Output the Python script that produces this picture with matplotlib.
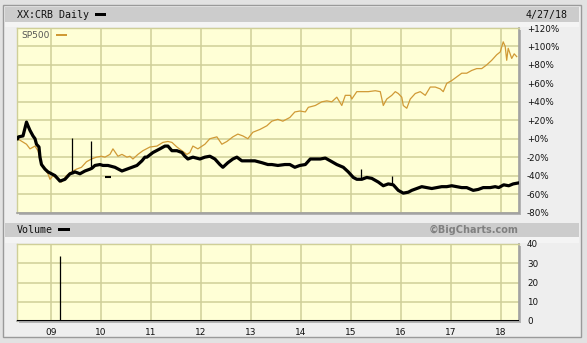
import matplotlib.pyplot as plt
from matplotlib.patches import Rectangle

W, H = 587, 343

# S&P 500, % change since start
sp_dates = [2008.33, 2008.51, 2008.58, 2008.68, 2008.74, 2008.81, 2008.88, 2008.94, 2008.98,
            2009.04, 2009.14, 2009.21, 2009.31, 2009.41, 2009.51, 2009.61, 2009.71, 2009.81,
            2009.91, 2010.01, 2010.08, 2010.18, 2010.24, 2010.34, 2010.42, 2010.52, 2010.58,
            2010.64, 2010.74, 2010.84, 2010.98, 2011.12, 2011.24, 2011.34, 2011.42, 2011.52,
            2011.62, 2011.72, 2011.78, 2011.84, 2011.94, 2012.08, 2012.18, 2012.32, 2012.42,
            2012.52, 2012.64, 2012.74, 2012.84, 2012.94, 2013.04, 2013.18, 2013.32, 2013.42,
            2013.54, 2013.64, 2013.78, 2013.88, 2013.98, 2014.09, 2014.15, 2014.29, 2014.42,
            2014.52, 2014.62, 2014.72, 2014.82, 2014.89, 2014.99, 2015.02, 2015.12, 2015.22,
            2015.35, 2015.49, 2015.59, 2015.65, 2015.72, 2015.82, 2015.89, 2015.95, 2016.02,
            2016.05, 2016.12, 2016.19, 2016.29, 2016.39, 2016.49, 2016.59, 2016.69, 2016.79,
            2016.85, 2016.92, 2017.02, 2017.12, 2017.22, 2017.32, 2017.42, 2017.52, 2017.62,
            2017.72, 2017.82, 2017.92, 2017.99, 2018.05, 2018.09, 2018.12, 2018.15, 2018.22,
            2018.27, 2018.32]
sp_pct = [0, -6, -11, -8, -13, -28, -33, -38, -44,
          -40, -44, -47, -40, -36, -33, -31, -25, -22,
          -20, -19, -20, -17, -11, -19, -17, -20, -19,
          -22, -17, -13, -9, -8, -4, -3, -4, -9,
          -13, -17, -15, -8, -11, -6, 0, 2, -6,
          -3, 2, 5, 3, 0, 7, 10, 14, 19,
          21, 19, 23, 29, 30, 29, 34, 36, 40,
          41, 40, 45, 36, 47, 47, 43, 51, 51,
          51, 52, 51, 36, 43, 47, 51, 49, 45,
          36, 33, 43, 49, 51, 47, 56, 56, 54,
          51, 60, 63, 67, 71, 71, 74, 76, 76,
          80, 85, 91, 94, 105, 100, 85, 98, 87,
          92, 89]

# CRB index, % change since start
crb_dates = [2008.33, 2008.35, 2008.44, 2008.51, 2008.54, 2008.58, 2008.64, 2008.68, 2008.71,
             2008.76, 2008.78, 2008.81, 2008.88, 2008.94, 2009.01, 2009.08, 2009.18, 2009.28,
             2009.38, 2009.44, 2009.48, 2009.58, 2009.68, 2009.78, 2009.82, 2009.88, 2009.98,
             2010.04, 2010.14, 2010.28, 2010.42, 2010.52, 2010.62, 2010.72, 2010.82, 2010.88,
             2010.92, 2011.04, 2011.18, 2011.28, 2011.34, 2011.42, 2011.52, 2011.62, 2011.68,
             2011.74, 2011.84, 2011.98, 2012.08, 2012.18, 2012.28, 2012.38, 2012.44, 2012.54,
             2012.64, 2012.72, 2012.82, 2012.94, 2013.08, 2013.22, 2013.34, 2013.42, 2013.54,
             2013.68, 2013.78, 2013.88, 2013.98, 2014.09, 2014.19, 2014.29, 2014.39, 2014.49,
             2014.59, 2014.72, 2014.85, 2014.95, 2015.05, 2015.12, 2015.22, 2015.32, 2015.42,
             2015.55, 2015.65, 2015.75, 2015.85, 2015.95, 2016.05, 2016.15, 2016.22, 2016.32,
             2016.42, 2016.52, 2016.62, 2016.72, 2016.82, 2016.92, 2017.02, 2017.12, 2017.22,
             2017.32, 2017.45, 2017.55, 2017.65, 2017.79, 2017.89, 2017.96, 2018.06, 2018.16,
             2018.25, 2018.35]
crb_pct = [0, 2, 3, 18, 14, 9, 3, 0, -6,
           -9, -20, -28, -33, -36, -38, -40, -46, -44,
           -38, -37, -36, -38, -35, -33, -32, -29, -28,
           -29, -29, -31, -35, -33, -31, -29, -24, -20,
           -20, -15, -11, -8, -8, -13, -13, -15, -19,
           -22, -20, -22, -20, -19, -22, -28, -31, -26,
           -22, -20, -24, -24, -24, -26, -28, -28, -29,
           -28, -28, -31, -29, -28, -22, -22, -22, -21,
           -24, -28, -31, -36, -42, -44, -44, -42, -43,
           -47, -51, -49, -50, -56, -59, -58, -56, -54,
           -52, -53, -54, -53, -52, -52, -51, -52, -53,
           -53, -56, -55, -53, -53, -52, -53, -50, -51,
           -49, -48]

# single-day spikes in CRB
spike_dates = [2009.43, 2009.81, 2015.21, 2015.83]
spike_base = [-37, -32, -44, -49]
spike_top = [1, -2, -33, -40]
stray_dates = [2010.14]
stray_pct = [-41]

vol_dates = [2009.18]
vol_vals = [34]

year_ticks = list(range(2009, 2019))
year_labels = ['09', '10', '11', '12', '13', '14', '15', '16', '17', '18']
pct_ticks = list(range(-80, 121, 20))
pct_labels = ['%+d%%' % v if v != 0 else '+0%' for v in pct_ticks]
vol_ticks = [0, 10, 20, 30, 40]

x_range = (2008.32, 2018.36)

GOLD = '#D09A36'
GRID = '#CFCF98'
BG = '#FFFFD6'


def box(x0, y0, x1, y1, **kw):
    r = Rectangle((x0 / W, 1 - y1 / H), (x1 - x0) / W, (y1 - y0) / H,
                  transform=fig.transFigure, **kw)
    fig.add_artist(r)


def style(ax, ymin, ymax, ticks, labels):
    ax.set_facecolor(BG)
    ax.set_xlim(*x_range)
    ax.set_ylim(ymin, ymax)
    ax.set_xticks(year_ticks)
    ax.set_yticks(ticks)
    ax.set_yticklabels(labels)
    ax.yaxis.tick_right()
    ax.tick_params(axis='y', length=0, pad=6, labelsize=6.3, labelcolor='#111111')
    ax.tick_params(axis='x', length=0)
    ax.grid(True, color=GRID, lw=1.1)
    ax.set_axisbelow(True)
    for side in ['top', 'left']:
        ax.spines[side].set_color(GRID)
        ax.spines[side].set_linewidth(1)
    for side in ['bottom', 'right']:
        ax.spines[side].set_color('#A0A0A0')
        ax.spines[side].set_linewidth(1.2)
    for lab in ax.get_yticklabels():
        lab.set_horizontalalignment('left')


fig = plt.figure(figsize=(W / 100, H / 100), dpi=100)
fig.patch.set_facecolor('#E2E2E2')

box(3, 5, 581, 337, fc='#EEEEEE', ec='#9A9A9A', lw=1, zorder=-3)
box(5, 7, 579, 22, fc='#CCCCCC', ec='none', zorder=-2)
box(5, 223, 579, 237, fc='#CCCCCC', ec='none', zorder=-2)
box(5, 22, 579, 27, fc='#F4F4F4', ec='none', zorder=-2)
box(5, 237, 579, 243, fc='#F4F4F4', ec='none', zorder=-2)
box(19, 30, 521, 215, fc='#B4B4B4', ec='none', zorder=-1)
box(19, 246, 521, 323, fc='#B4B4B4', ec='none', zorder=-1)

# price panel
ax = fig.add_axes([17 / W, 1 - 212.5 / H, 501.7 / W, 184.5 / H])
style(ax, -80, 120, pct_ticks, pct_labels)
ax.set_xticklabels([])
ax.plot(sp_dates, sp_pct, color=GOLD, lw=0.9, zorder=3)
ax.vlines(spike_dates, spike_base, spike_top, color='black', lw=0.9, zorder=4)
ax.plot(crb_dates, crb_pct, color='black', lw=2.3, zorder=4)
ax.plot(stray_dates, stray_pct, ls='none', marker='_', ms=4, mew=1.5, color='black', zorder=4)

# volume panel
axv = fig.add_axes([17 / W, 1 - 321 / H, 501.7 / W, 77 / H])
style(axv, 0, 40, vol_ticks, [str(v) for v in vol_ticks])
axv.set_xticklabels(year_labels)
axv.tick_params(axis='x', pad=5, labelsize=6.5, labelcolor='#111111')
axv.vlines(vol_dates, 0, vol_vals, color='black', lw=0.9)
axv.axhline(0, color='black', lw=2.2, zorder=5)

# header texts
fig.text(17 / W, 1 - 15 / H, 'XX:CRB Daily', family='DejaVu Sans Mono', size=7.2,
         va='center', color='#111111')
box(95, 13, 106, 16, fc='black', ec='none')
fig.text(568 / W, 1 - 15 / H, '4/27/18', family='DejaVu Sans Mono', size=7.2,
         va='center', ha='right', color='#111111')
fig.text(21 / W, 1 - 35 / H, 'SP500', size=6.5, va='center', color='#555555')
box(56, 34, 67, 36, fc=GOLD, ec='none', zorder=5)
fig.text(17 / W, 1 - 230 / H, 'Volume', family='DejaVu Sans Mono', size=7.2,
         va='center', color='#111111')
box(58, 228, 70, 231, fc='black', ec='none')
fig.text(519 / W, 1 - 230 / H, '\u00a9BigCharts.com', size=7, weight='bold',
         va='center', ha='right', color='#808080')

fig.savefig('out.png', dpi=100, facecolor=fig.get_facecolor())
